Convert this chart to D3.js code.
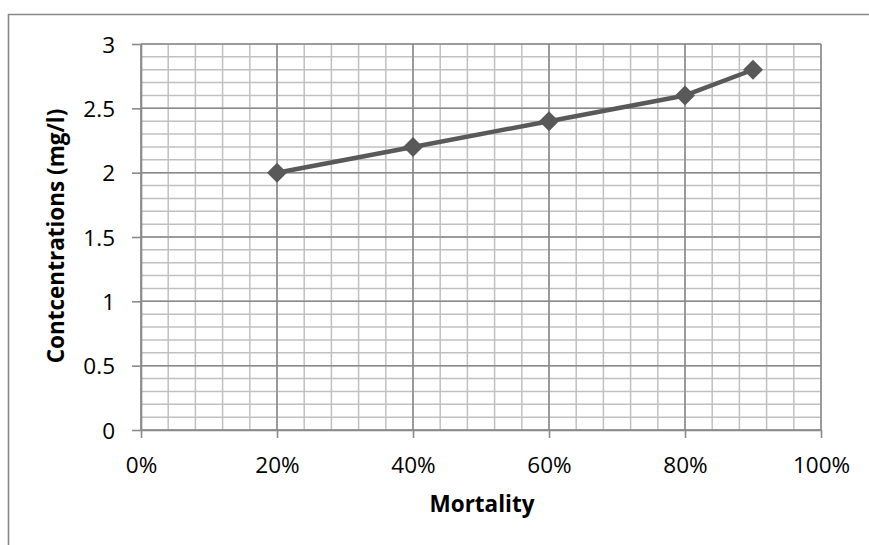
<!DOCTYPE html>
<html>
<head>
<meta charset="utf-8">
<script src="https://cdn.jsdelivr.net/npm/d3@7"></script>
<style>
  html, body { margin: 0; padding: 0; background: #fff; }
  svg { display: block; font-family: "Open Sans", "Noto Sans", sans-serif; }
</style>
</head>
<body>
<svg id="chart" width="869" height="545"></svg>
<script>
// Mortality fraction vs. concentration (mg/l)
const mortality = [0.2, 0.4, 0.6, 0.8, 0.9];
const concentration = [2.0, 2.2, 2.4, 2.6, 2.8];

const xMajorTicks = [0, 0.2, 0.4, 0.6, 0.8, 1.0];
const yMajorTicks = [0, 0.5, 1, 1.5, 2, 2.5, 3];
const xTitle = "Mortality";
const yTitle = "Contcentrations (mg/l)";

const svg = d3.select("#chart");
const W = 869, H = 545;
const plot = { left: 141, right: 821, top: 44, bottom: 430 };

const x = d3.scaleLinear().domain([0, 1]).range([plot.left, plot.right]);
const y = d3.scaleLinear().domain([0, 3]).range([plot.bottom, plot.top]);

// outer chart frame (runs off the right and bottom edges)
svg.append("path")
  .attr("d", `M8.5,${H + 2} V14.5 H${W + 2}`)
  .attr("fill", "none")
  .attr("stroke", "#888")
  .attr("stroke-width", 1.6);

// minor gridlines
const xMinor = d3.range(0, 1.0001, 0.04);
const yMinor = d3.range(0, 3.0001, 0.1);
const grid = svg.append("g");
grid.selectAll("line.xminor").data(xMinor).join("line")
  .attr("x1", d => x(d)).attr("x2", d => x(d))
  .attr("y1", plot.top).attr("y2", plot.bottom)
  .attr("stroke", "#c0c0c0").attr("stroke-width", 1.5);
grid.selectAll("line.yminor").data(yMinor).join("line")
  .attr("x1", plot.left).attr("x2", plot.right)
  .attr("y1", d => y(d)).attr("y2", d => y(d))
  .attr("stroke", "#c0c0c0").attr("stroke-width", 1.5);

// major gridlines
grid.selectAll("line.xmajor").data(xMajorTicks).join("line")
  .attr("x1", d => x(d)).attr("x2", d => x(d))
  .attr("y1", plot.top).attr("y2", plot.bottom)
  .attr("stroke", "#8a8a8a").attr("stroke-width", 1.5);
grid.selectAll("line.ymajor").data(yMajorTicks).join("line")
  .attr("x1", plot.left).attr("x2", plot.right)
  .attr("y1", d => y(d)).attr("y2", d => y(d))
  .attr("stroke", "#8a8a8a").attr("stroke-width", 1.5);

// axes
const xAxis = svg.append("g")
  .attr("transform", `translate(0,${plot.bottom})`)
  .call(d3.axisBottom(x).tickValues(xMajorTicks).tickFormat(d3.format(".0%")).tickSize(8).tickSizeOuter(0));
const yAxis = svg.append("g")
  .attr("transform", `translate(${plot.left},0)`)
  .call(d3.axisLeft(y).tickValues(yMajorTicks).tickFormat(d3.format("")).tickSize(9).tickSizeOuter(0));

[xAxis, yAxis].forEach(g => {
  g.select(".domain").attr("stroke", "#8a8a8a").attr("stroke-width", 1.6);
  g.selectAll(".tick line").attr("stroke", "#8a8a8a").attr("stroke-width", 1.6);
  g.selectAll(".tick text")
    .attr("fill", "#000")
    .style("font-family", '"Open Sans", "Noto Sans", sans-serif')
    .style("font-size", "22.5px");
});
xAxis.selectAll(".tick text").attr("y", 43).attr("dy", null);
yAxis.selectAll(".tick text").attr("x", -26).attr("dy", "0.36em");

// data line with diamond markers
const line = d3.line().x((d, i) => x(mortality[i])).y(d => y(d));
svg.append("path")
  .datum(concentration)
  .attr("d", line)
  .attr("fill", "none")
  .attr("stroke", "#595959")
  .attr("stroke-width", 4.5)
  .attr("stroke-linejoin", "round");

svg.selectAll("path.marker").data(concentration).join("path")
  .attr("class", "marker")
  .attr("transform", (d, i) => `translate(${x(mortality[i])},${y(d)}) rotate(45)`)
  .attr("d", d3.symbol().type(d3.symbolSquare).size(200))
  .attr("fill", "#595959");

// axis titles
svg.append("text")
  .attr("x", (plot.left + plot.right) / 2 + 1)
  .attr("y", 512)
  .attr("text-anchor", "middle")
  .style("font-weight", "bold")
  .style("font-size", "22.5px")
  .text(xTitle);

svg.append("text")
  .attr("transform", `translate(64,${(plot.top + plot.bottom) / 2 - 1}) rotate(-90)`)
  .attr("text-anchor", "middle")
  .style("font-weight", "bold")
  .style("font-size", "22.5px")
  .text(yTitle);
</script>
</body>
</html>
